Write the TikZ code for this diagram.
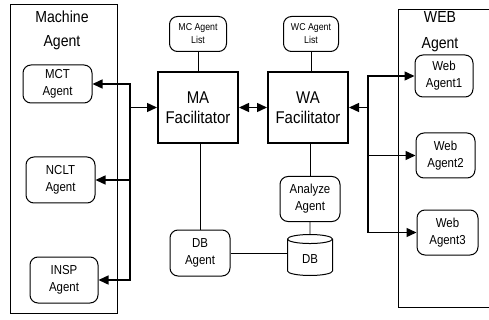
\documentclass[tikz,border=0pt]{standalone}
\usepackage{fontspec}
\setmainfont[FakeStretch=0.88]{Liberation Sans}
\usepackage{tikz}
\usetikzlibrary{arrows.meta,shapes.geometric,positioning}
\tikzset{
  frame/.style={draw,line width=1pt,inner sep=0pt},
  agent/.style={draw,line width=1pt,rounded corners=8pt,align=center,
    font=\fontsize{13}{17}\selectfont,inner sep=1pt},
  fac/.style={draw,line width=2pt,minimum width=80pt,minimum height=71pt,
    align=center,font=\fontsize{17}{20}\selectfont},
  lst/.style={agent,font=\fontsize{10}{13}\selectfont},
  arr/.style={line width=1.4pt,-{Triangle[length=10pt,width=9pt]}},
  dbl/.style={line width=1.4pt,{Triangle[length=10pt,width=9pt]}-{Triangle[length=10pt,width=9pt]}},
  ln/.style={line width=0.9pt}
}
\begin{document}
\begin{tikzpicture}[x=1pt,y=-1pt]
  \useasboundingbox (0,0) rectangle (489,320);
  % groups
  \node (mgroup) [frame,minimum width=107pt,minimum height=308pt] at (63.5,159) {};
  \node (mtitle) [align=center,font=\fontsize{16}{24}\selectfont] at (62,30) {Machine\\Agent};
  \node (wgroup) [frame,minimum width=100pt,minimum height=297pt] at (448,158.5) {};
  \node (wtitle) [align=center,font=\fontsize{16}{26}\selectfont] at (440,32) {WEB\\Agent};
  % machine agents
  \node (mct) [agent,minimum width=69pt,minimum height=38pt] at (57.5,84) {MCT\\Agent};
  \node (nclt) [agent,minimum width=69pt,minimum height=46pt] at (60.5,180) {NCLT\\Agent};
  \node (insp) [agent,minimum width=68pt,minimum height=46pt] at (64,280) {INSP\\Agent};
  % facilitators
  \node (ma) [fac] at (198,107.5) {MA\\Facilitator};
  \node (wa) [fac] at (308,107.5) {WA\\Facilitator};
  \node (mclist) [lst,minimum width=57pt,minimum height=35pt,above=19pt of ma] {MC Agent\\List};
  \node (wclist) [lst,minimum width=55pt,minimum height=35pt,above=19pt of wa,xshift=3pt] {WC Agent\\List};
  \node (analyze) [agent,minimum width=60pt,minimum height=45pt,below=32pt of wa,xshift=2pt] {Analyze\\Agent};
  \node (db) [draw,line width=1pt,cylinder,shape border rotate=90,aspect=0.4,
    minimum width=45pt,minimum height=41pt,font=\fontsize{13}{15}\selectfont,
    below=12pt of analyze] {DB};
  \node (dbagent) [agent,minimum width=60pt,minimum height=46pt] at (200,253) {DB\\Agent};
  % web agents
  \node (web1) [agent,minimum width=58pt,minimum height=42pt] at (444,76) {Web\\Agent1};
  \node (web2) [agent,minimum width=59pt,minimum height=45pt] at (445.5,155.5) {Web\\Agent2};
  \node (web3) [agent,minimum width=61pt,minimum height=45pt] at (447.5,232.5) {Web\\Agent3};
  % buses
  \coordinate (lbus) at (130,107.5);
  \coordinate (rbus) at (368,107.5);
  \draw[arr] (lbus) |- (mct.east);
  \draw[arr] (lbus) |- (nclt.east);
  \draw[arr] (lbus) |- (insp.east);
  \draw[arr] (lbus) -- (ma.west);
  \draw[dbl] (ma.east) -- (wa.west);
  \draw[arr] (rbus) -- (wa.east);
  \draw[arr] (rbus) |- (web1.west);
  \draw[arr] (rbus) |- (web2.west);
  \draw[arr] (rbus) |- (web3.west);
  % plain links
  \draw[ln] (mclist.south) -- (mclist.south |- ma.north);
  \draw[ln] (wclist.south) -- (wclist.south |- wa.north);
  \draw[ln] (dbagent.north) -- (dbagent.north |- ma.south);
  \draw[ln] (analyze.north) -- (analyze.north |- wa.south);
  \draw[ln] (analyze.south) -- (db.top);
  \draw[ln] (dbagent.east) -- (dbagent.east -| db.west);
\end{tikzpicture}
\end{document}
